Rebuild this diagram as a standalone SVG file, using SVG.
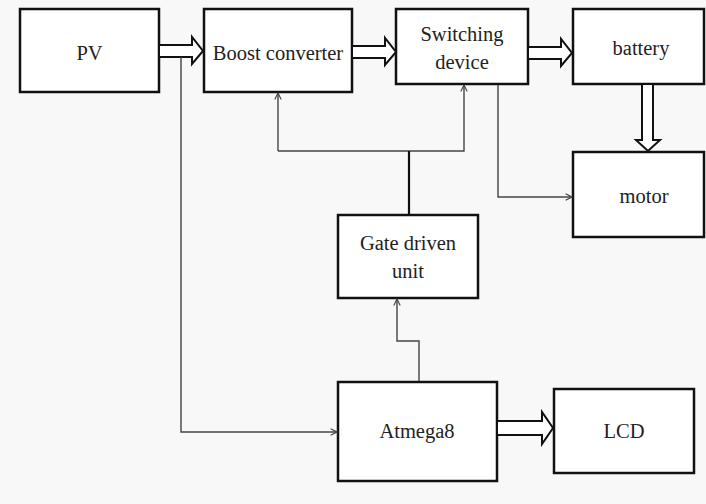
<svg xmlns="http://www.w3.org/2000/svg" width="706" height="504" viewBox="0 0 706 504">
<defs>
<style>
.box{fill:#ffffff;stroke:#111;stroke-width:2.5}
.lbl{font-family:"Liberation Serif","DejaVu Serif",serif;font-size:20.5px;fill:#222;text-anchor:middle}
.big{fill:#ffffff;stroke:#111;stroke-width:2;stroke-linejoin:miter}
.thin{fill:none;stroke:#444;stroke-width:1.4}
.mid{fill:none;stroke:#111;stroke-width:2.2}
</style>
<marker id="ah" viewBox="0 0 10 10" refX="9" refY="5" markerWidth="8" markerHeight="8" markerUnits="userSpaceOnUse" orient="auto">
<path d="M1,1 L9,5 L1,9" fill="none" stroke="#444" stroke-width="1.4"/>
</marker>
</defs>
<rect width="706" height="504" fill="#f8f8f8"/>
<g id="pv"><rect class="box" x="20" y="9" width="139" height="83"/><text class="lbl" x="89.5" y="60">PV</text></g>
<g id="boost"><rect class="box" x="204" y="9" width="148" height="83"/><text class="lbl" x="278" y="60">Boost converter</text></g>
<g id="switching"><rect class="box" x="396" y="9" width="132" height="75"/><text class="lbl" x="462" y="41">Switching</text><text class="lbl" x="462" y="69">device</text></g>
<g id="battery"><rect class="box" x="573" y="9" width="131" height="75"/><text class="lbl" x="641" y="55">battery</text></g>
<g id="motor"><rect class="box" x="573" y="152" width="131" height="85"/><text class="lbl" x="644" y="203">motor</text></g>
<g id="gate"><rect class="box" x="338" y="215" width="140" height="83"/><text class="lbl" x="408" y="250">Gate driven</text><text class="lbl" x="408" y="278">unit</text></g>
<g id="atmega"><rect class="box" x="338" y="382" width="159" height="99"/><text class="lbl" x="417" y="438">Atmega8</text></g>
<g id="lcd"><rect class="box" x="554" y="389" width="140" height="84"/><text class="lbl" x="624" y="438">LCD</text></g>
<g id="connectors">
<path class="big" d="M160,45 H192 V37 L203,51 L192,64 V57 H160"/>
<path class="big" d="M353,46 H385 V38 L396,52 L385,65 V58 H353"/>
<path class="big" d="M529,47 H561 V39 L572,53 L561,66 V59 H529"/>
<path class="big" d="M642,85 V140 H636 L648,151 L660,140 H653 V85"/>
<path class="big" d="M498,421 H542 V412 L553,428 L542,444 V435 H498"/>
<path class="thin" d="M181,57 V432 H337" marker-end="url(#ah)"/>
<path class="thin" d="M278,151 V93" marker-end="url(#ah)"/>
<path class="thin" d="M409,151 H464 V85" marker-end="url(#ah)"/>
<path class="thin" d="M409,151 H278"/>
<path class="mid" d="M409,214 V151"/>
<path class="thin" d="M498,85 V197 H572" marker-end="url(#ah)"/>
<path class="thin" d="M419,381 V341 H397 V299" marker-end="url(#ah)"/>
</g>
</svg>
